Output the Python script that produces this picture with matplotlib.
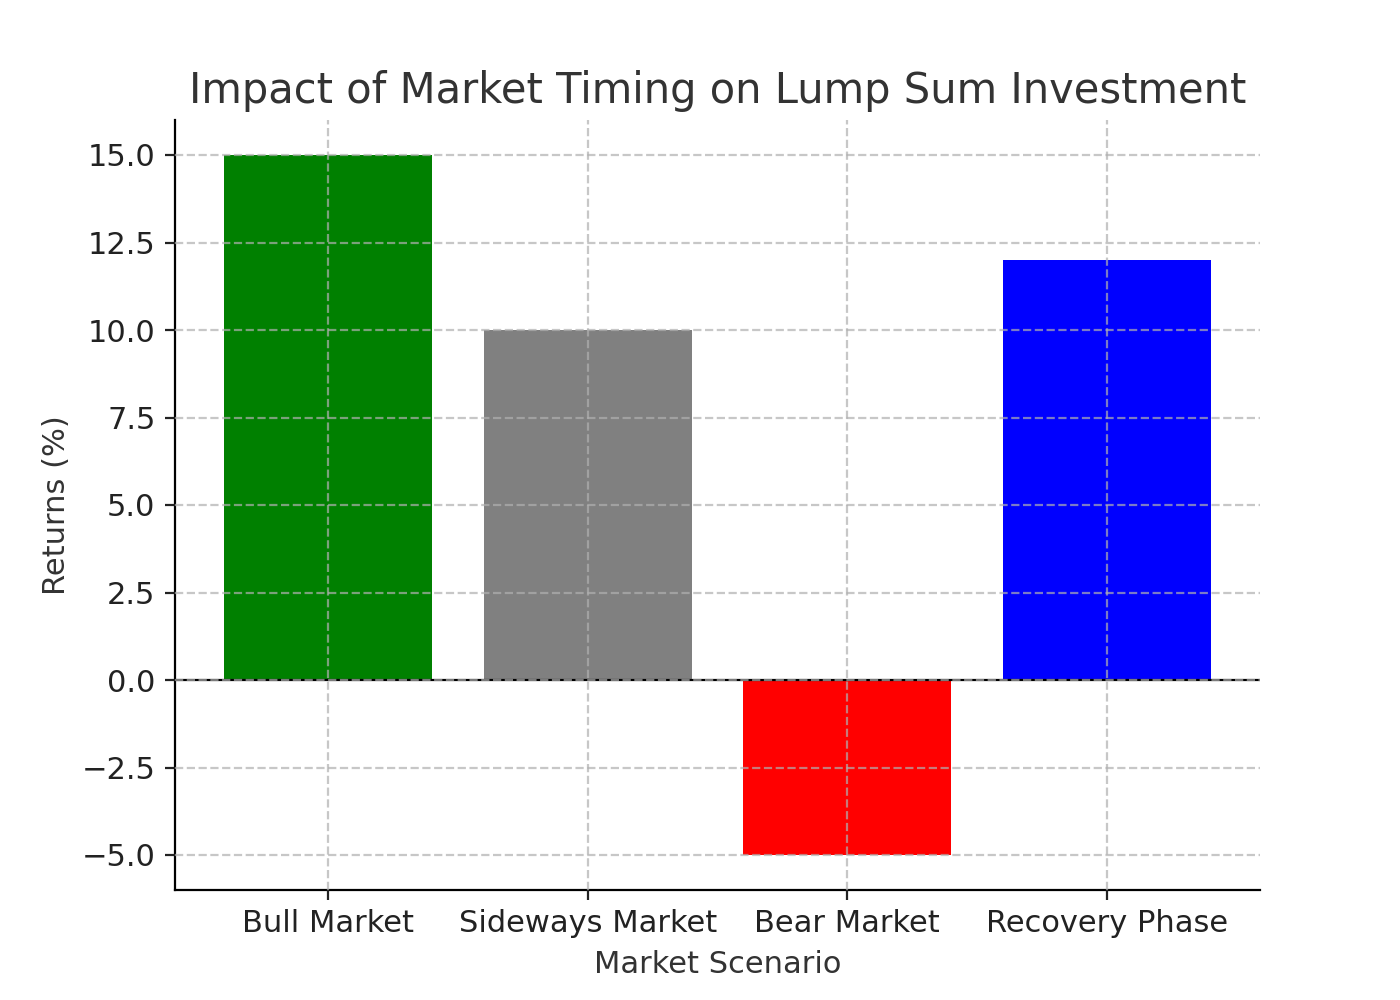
import matplotlib
matplotlib.use("Agg")
import matplotlib.pyplot as plt

categories = ["Bull Market", "Sideways Market", "Bear Market", "Recovery Phase"]
returns = [15, 10, -5, 12]
colors = ["green", "gray", "red", "blue"]

plt.rcParams["text.color"] = "#333333"
plt.rcParams["axes.labelcolor"] = "#333333"
plt.rcParams["xtick.color"] = "#222222"
plt.rcParams["ytick.color"] = "#222222"

fig, ax = plt.subplots(figsize=(7, 5), dpi=200)
ax.bar(categories, returns, color=colors)
ax.axhline(0, color="black", linewidth=0.8)
ax.set_title("Impact of Market Timing on Lump Sum Investment", fontsize=15)
ax.set_xlabel("Market Scenario", fontsize=11)
ax.set_ylabel("Returns (%)", fontsize=11)
ax.tick_params(labelsize=11)
ax.grid(True, linestyle="--", alpha=0.7)
ax.set_axisbelow(False)
for s in ["top", "right"]:
    ax.spines[s].set_visible(False)
fig.savefig("out.png")
